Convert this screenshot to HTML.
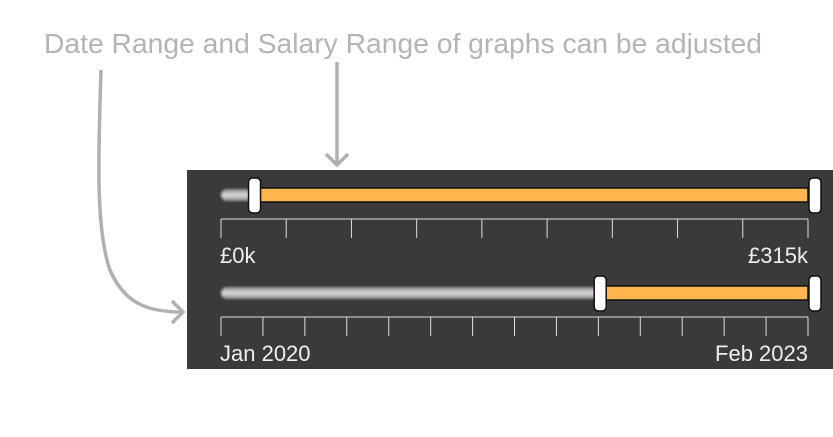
<!DOCTYPE html>
<html><head><meta charset="utf-8"><style>
body{margin:0;width:833px;height:437px;background:#fff;overflow:hidden}
svg{display:block}
</style></head><body>
<svg width="833" height="437" font-family="Liberation Sans, sans-serif">
<defs>
<linearGradient id="g" x1="0" y1="0" x2="0" y2="1">
<stop offset="0" stop-color="#8a8a8a"/><stop offset="0.5" stop-color="#dcdcdc"/><stop offset="1" stop-color="#8a8a8a"/>
</linearGradient>
<filter id="blur"><feGaussianBlur stdDeviation="1.2"/></filter>
</defs>
<text x="44" y="53" font-size="28" fill="#b4b4b4" textLength="718" lengthAdjust="spacingAndGlyphs">Date Range and Salary Range of graphs can be adjusted</text>
<path d="M101,70 C98,160 96,230 110,270 C125,305 150,312 182,312" fill="none" stroke="#b0b0b0" stroke-width="3.5"/>
<path d="M172,301 L183,312 L172,323" fill="none" stroke="#b0b0b0" stroke-width="3.5"/>
<path d="M337,62 L337,164 M326,154 L337,165 L348,154" fill="none" stroke="#b0b0b0" stroke-width="3.5"/>
<rect x="187" y="170" width="646" height="199" fill="#3a3a3a"/>
<g id="sliders"></g>
</svg>
<script>
const salaryMin=0, salaryMax=315, salarySel=[18,315];
const salaryTicks=10;
const dateTickCount=15;
const dateSel=[0.646,1];
const salaryLabels=["£0k","£315k"];
const dateLabels=["Jan 2020","Feb 2023"];
const NS="http://www.w3.org/2000/svg";
const g=document.getElementById('sliders');
const x0=221,x1=808;
function mk(t,a){const e=document.createElementNS(NS,t);for(const k in a)e.setAttribute(k,a[k]);g.appendChild(e);return e;}
function slider(cy,f0,f1,ticks,labels,name){
  const t=mk('rect',{x:x0,y:cy-6,width:x1-x0,height:12,rx:6,fill:'url(#g)',filter:'url(#blur)'});
  
  
  const a=x0+f0*(x1-x0),b=x0+f1*(x1-x0);
  const s=mk('rect',{x:a,y:cy-7,width:b-a,height:14,fill:'#ffb74d',stroke:'#111','stroke-width':1.5});
  
  
  [a,b+7].forEach((hx,i)=>{
    const h=mk('rect',{x:hx-6,y:cy-17,width:12,height:35,rx:4,fill:'#fff',stroke:'#111','stroke-width':1.5});
    
    
  });
  const ty=cy+24;
  const ax=mk('line',{x1:x0,x2:x1,y1:ty,y2:ty,stroke:'#ddd','stroke-width':1});
  
  
  for(let i=0;i<ticks;i++){
    const x=x0+i*(x1-x0)/(ticks-1);
    const l=mk('line',{x1:x,x2:x,y1:ty,y2:ty+19,stroke:'#ddd','stroke-width':1});
    
    
  }
  const l1=mk('text',{x:x0-1,y:ty+44,fill:'#eee','font-size':22});l1.textContent=labels[0];
  
  
  const l2=mk('text',{x:x1,y:ty+44,fill:'#eee','font-size':22,'text-anchor':'end'});l2.textContent=labels[1];
  
  
}
slider(195,(salarySel[0]-salaryMin)/(salaryMax-salaryMin),(salarySel[1]-salaryMin)/(salaryMax-salaryMin),salaryTicks,salaryLabels,'salary-slider');
slider(293,dateSel[0],dateSel[1],dateTickCount,dateLabels,'date-slider');
</script>
</body></html>
